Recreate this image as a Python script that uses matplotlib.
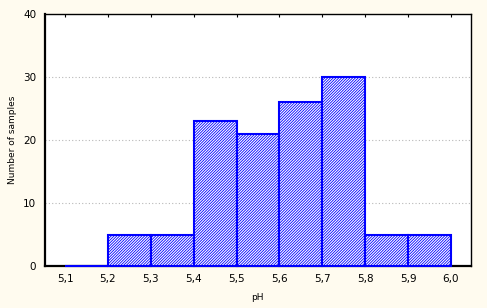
import matplotlib
matplotlib.use("Agg")
import matplotlib.pyplot as plt

# histogram bins of pH
bin_edges = [5.1, 5.2, 5.3, 5.4, 5.5, 5.6, 5.7, 5.8, 5.9, 6.0]
counts = [0, 5, 5, 23, 21, 26, 30, 5, 5]
x_tick_labels = ["5,1", "5,2", "5,3", "5,4", "5,5", "5,6", "5,7", "5,8", "5,9", "6,0"]
y_ticks = [0, 10, 20, 30, 40]

plt.rcParams['font.family'] = ['DejaVu Sans']
plt.rcParams['hatch.linewidth'] = 0.6
plt.rcParams['hatch.color'] = '#0000ff'

fig = plt.figure(figsize=(4.87, 3.08), dpi=100, facecolor='#fffbef')
ax = fig.add_axes([0.0914, 0.136, 0.876, 0.8185])
ax.set_facecolor('white')

widths = [bin_edges[i + 1] - bin_edges[i] for i in range(len(counts))]
ax.bar(bin_edges[:-1], counts, width=widths, align='edge',
       facecolor='white', edgecolor='#0000ff', linewidth=1.5, hatch='////////////',
       zorder=3, clip_on=False)

ax.set_xlim(5.052, 6.047)
ax.set_ylim(0, 40)
ax.set_xticks(bin_edges)
ax.set_xticklabels(x_tick_labels, fontsize=7.5)
ax.set_yticks(y_ticks)
ax.set_yticklabels([str(v) for v in y_ticks], fontsize=7.5)
ax.tick_params(axis='both', length=0, pad=6)

# small ticks on top edge
top = ax.secondary_xaxis('top')
top.set_xticks(bin_edges)
top.set_xticklabels([])
top.tick_params(direction='in', length=2, width=0.8)
top.spines['top'].set_visible(False)

for y in y_ticks[1:-1]:
    ax.axhline(y, color='#b8b8b8', linestyle=(0, (1, 2)), linewidth=0.8, zorder=1)

for side in ['left', 'bottom']:
    ax.spines[side].set_linewidth(1.6)
for side in ['top', 'right']:
    ax.spines[side].set_linewidth(1.0)

ax.set_xlabel("pH", fontsize=6.5, labelpad=6)
ax.set_ylabel("Number of samples", fontsize=6.5, labelpad=4)

fig.savefig("out.png", dpi=100, facecolor=fig.get_facecolor())
